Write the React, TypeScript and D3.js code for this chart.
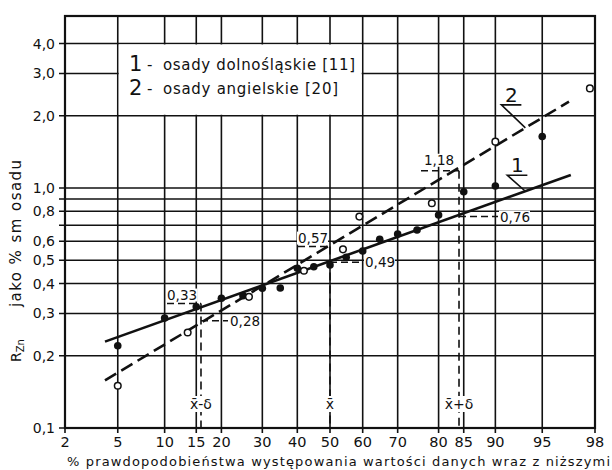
import React from 'react';
import * as d3 from 'd3';

// probability scale ticks (%) and log value grid
const probTicks = [2, 5, 10, 15, 20, 30, 40, 50, 60, 70, 80, 85, 90, 95, 98];
const valueGrid = [0.1, 0.2, 0.3, 0.4, 0.5, 0.6, 0.7, 0.8, 0.9, 1, 2, 3, 4];
const valueLabels = [0.1, 0.2, 0.3, 0.4, 0.5, 0.6, 0.8, 1, 2, 3, 4];

// 1 - osady dolnośląskie (filled points)
const dolnoProb = [5, 10, 15, 20, 25, 30, 35, 40, 45, 50, 55, 60, 65, 70, 75, 80, 85, 90, 95];
const dolnoVal = [0.22, 0.287, 0.32, 0.347, 0.356, 0.382, 0.383, 0.463, 0.47, 0.478, 0.514, 0.546, 0.611, 0.643, 0.668, 0.772, 0.965, 1.02, 1.64];

// 2 - osady angielskie (open points)
const angProb = [5, 13.5, 26.5, 42, 54, 59, 78.5, 90, 97.8];
const angVal = [0.15, 0.25, 0.352, 0.452, 0.555, 0.76, 0.864, 1.56, 2.6];

// fitted lines (end points)
const fit1Prob = [4.06, 96.9];
const fit1Val = [0.229, 1.133];
const fit2Prob = [4.06, 96.8];
const fit2Val = [0.158, 2.29];

// x̄ - σ, x̄, x̄ + σ
const sigmaProbs = [15.87, 50, 84.13];
const sigmaNames = ['x\u0304-δ', 'x\u0304', 'x\u0304+δ'];
const line1Marks = [0.33, 0.49, 0.76];
const line2Marks = [0.28, 0.57, 1.18];

const legendNums = ['1', '2'];
const legendTexts = ['osady dolnośląskie  [11]', 'osady angielskie  [20]'];

function probit(p: number): number {
  const a = [-39.69683028665376, 220.9460984245205, -275.9285104469687, 138.357751867269, -30.66479806614716, 2.506628277459239];
  const b = [-54.47609879822406, 161.5858368580409, -155.6989798598866, 66.80131188771972, -13.28068155288572];
  const c = [-0.007784894002430293, -0.3223964580411365, -2.400758277161838, -2.549732539343734, 4.374664141464968, 2.938163982698783];
  const d = [0.007784695709041462, 0.3224671290700398, 2.445134137142996, 3.754408661907416];
  const pl = 0.02425;
  if (p < pl) {
    const q = Math.sqrt(-2 * Math.log(p));
    return (((((c[0] * q + c[1]) * q + c[2]) * q + c[3]) * q + c[4]) * q + c[5]) / ((((d[0] * q + d[1]) * q + d[2]) * q + d[3]) * q + 1);
  }
  if (p <= 1 - pl) {
    const q = p - 0.5;
    const r = q * q;
    return (((((a[0] * r + a[1]) * r + a[2]) * r + a[3]) * r + a[4]) * r + a[5]) * q / (((((b[0] * r + b[1]) * r + b[2]) * r + b[3]) * r + b[4]) * r + 1);
  }
  const q = Math.sqrt(-2 * Math.log(1 - p));
  return -(((((c[0] * q + c[1]) * q + c[2]) * q + c[3]) * q + c[4]) * q + c[5]) / ((((d[0] * q + d[1]) * q + d[2]) * q + d[3]) * q + 1);
}

const left = 65, right = 595, top = 16, bottom = 428;
const zScale = d3.scaleLinear().domain([probit(0.02), probit(0.98)]).range([left, right]);
const x = (p: number) => zScale(probit(p / 100));
const y = d3.scaleLog().domain([0.1, 1]).range([bottom, 188]);

const fmt = (v: number) => d3.format('.1f')(v).replace('.', ',');
const fmt2 = (v: number) => d3.format('.2f')(v).replace('.', ',');
const font = '"DejaVu Sans", sans-serif';

const App = () => {
  const line = d3.line<[number, number]>().x(d => x(d[0])).y(d => y(d[1]));
  const fit1 = line(fit1Prob.map((p, i) => [p, fit1Val[i]]));
  const fit2 = line(fit2Prob.map((p, i) => [p, fit2Val[i]]));

  const boxX0 = x(5), boxX1 = x(60), boxY0 = y(4), boxY1 = y(2);

  // callout anchors on fitted lines
  const anchorP = 93.5;
  const interp = (ps: number[], vs: number[], p: number) => {
    const z0 = probit(ps[0] / 100), z1 = probit(ps[1] / 100), z = probit(p / 100);
    const t = (z - z0) / (z1 - z0);
    return Math.pow(10, Math.log10(vs[0]) + t * (Math.log10(vs[1]) - Math.log10(vs[0])));
  };
  const callouts = [
    { name: '1', ax: x(anchorP), ay: y(interp(fit1Prob, fit1Val, anchorP)), dx: -18, dy: -16 },
    { name: '2', ax: x(anchorP), ay: y(interp(fit2Prob, fit2Val, anchorP)), dx: -24, dy: -23 },
  ];

  const xs = sigmaProbs.map(p => x(p));

  const notes = [
    { v: line1Marks[0], x1: 167, x2: xs[0], tx: 167, ty: -4 },
    { v: line2Marks[0], x1: xs[0], x2: 228, tx: 230, ty: 5 },
    { v: line2Marks[1], x1: 298, x2: xs[1], tx: 298, ty: -4 },
    { v: line1Marks[1], x1: xs[1], x2: 363, tx: 365, ty: 5 },
    { v: line2Marks[2], x1: 421, x2: xs[2], tx: 424, ty: -6 },
    { v: line1Marks[2], x1: xs[2], x2: 498, tx: 500, ty: 5 },
  ];

  return (
    <svg width={612} height={470} style={{ position: 'absolute', left: 0, top: 0, background: '#fff' }} fontFamily={font}>
      {/* horizontal grid + ticks */}
      {valueGrid.map(v => (
        <line key={'h' + v} x1={left - 6} x2={right} y1={y(v)} y2={y(v)} stroke="#111" strokeWidth={1.6} />
      ))}
      {/* vertical grid + ticks */}
      {probTicks.map(p => (
        <line key={'v' + p} x1={x(p)} x2={x(p)} y1={top} y2={bottom + 5} stroke="#111" strokeWidth={1.6} />
      ))}
      {/* legend box */}
      <rect x={boxX0 + 1} y={boxY0 + 1} width={boxX1 - boxX0 - 2} height={boxY1 - boxY0 - 2} fill="#fff" />
      {legendNums.map((n, i) => (
        <g key={'lg' + n}>
          <text x={129} y={71 + i * 24} fontSize={21} fill="#111">{n}</text>
          <text x={147} y={70 + i * 24} fontSize={15} fill="#111">-</text>
          <text x={163} y={70 + i * 24} fontSize={15} fill="#111"
            textLength={i === 0 ? 192 : 175} lengthAdjust="spacing">{legendTexts[i]}</text>
        </g>
      ))}
      {/* frame */}
      <rect x={left} y={top} width={right - left} height={bottom - top} fill="none" stroke="#111" strokeWidth={2.2} />

      {/* y labels */}
      {valueLabels.map(v => (
        <text key={'yl' + v} x={55} y={y(v) + 5} fontSize={14} textAnchor="end" fill="#111">{fmt(v)}</text>
      ))}
      {/* x labels */}
      {probTicks.map(p => (
        <text key={'xl' + p} x={x(p)} y={447} fontSize={14.5} textAnchor="middle" fill="#111">{p}</text>
      ))}
      <text x={67} y={466} fontSize={13} fill="#111" textLength={543} lengthAdjust="spacing">
        % prawdopodobieństwa występowania wartości danych wraz z niższymi
      </text>
      <text transform="translate(21,362) rotate(-90)" fontSize={14} fill="#111">
        R<tspan fontSize={10} dy={3}>Zn</tspan>
      </text>
      <text transform="translate(21,307) rotate(-90)" fontSize={15} fill="#111" textLength={147} lengthAdjust="spacing">
        jako % sm osadu
      </text>

      {/* sigma verticals */}
      {xs.map((xx, i) => (
        <line key={'sv' + i} x1={xx} x2={xx} y1={y(Math.max(line1Marks[i], line2Marks[i]))} y2={bottom}
          stroke="#111" strokeWidth={1.6} strokeDasharray="8,5" />
      ))}
      {sigmaNames.map((s, i) => (
        <g key={'sn' + i}>
          <rect x={xs[i] - (i === 1 ? 5 : 15)} y={396} width={i === 1 ? 10 : 30} height={16} fill="#fff" />
          <text x={xs[i]} y={409} fontSize={14} textAnchor="middle" fill="#111">{s}</text>
        </g>
      ))}

      {/* fitted lines */}
      <path d={fit1 || ''} fill="none" stroke="#111" strokeWidth={2.6} />
      <path d={fit2 || ''} fill="none" stroke="#111" strokeWidth={2.6} strokeDasharray="13,6" />

      {/* annotation leaders */}
      {notes.map((a, i) => (
        <g key={'an' + i}>
          <line x1={a.x1} x2={a.x2} y1={y(a.v)} y2={y(a.v)} stroke="#111" strokeWidth={1.5} strokeDasharray="7,4" />
          <rect x={a.tx - 1} y={y(a.v) + a.ty - 11} width={31} height={13} fill="#fff" />
          <text x={a.tx} y={y(a.v) + a.ty} fontSize={13.5} fill="#111">{fmt2(a.v)}</text>
        </g>
      ))}

      {/* points */}
      {dolnoProb.map((p, i) => (
        <circle key={'d' + i} cx={x(p)} cy={y(dolnoVal[i])} r={3.8} fill="#111" />
      ))}
      {angProb.map((p, i) => (
        <circle key={'a' + i} cx={x(p)} cy={y(angVal[i])} r={3.3} fill="#fff" stroke="#111" strokeWidth={1.5} />
      ))}

      {/* callouts */}
      {callouts.map(c => (
        <g key={'c' + c.name}>
          <polyline points={`${c.ax},${c.ay} ${c.ax + c.dx},${c.ay + c.dy} ${c.ax + c.dx + 20},${c.ay + c.dy}`}
            fill="none" stroke="#111" strokeWidth={1.6} />
          <text x={c.ax + c.dx + 10} y={c.ay + c.dy - 3} fontSize={20} textAnchor="middle" fill="#111">{c.name}</text>
        </g>
      ))}
    </svg>
  );
};

export default App;
